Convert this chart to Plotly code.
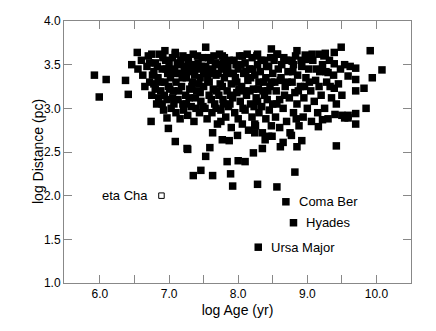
import plotly.graph_objs as go

# log age (yr) and log distance (pc) of the stellar groups
age_edge = [5.92, 6.09, 5.99, 6.37, 6.41, 6.54, 6.46, 6.75, 6.94, 7.09, 7.53, 7.77, 8.06, 8.28, 8.48, 8.56,
            8.61, 8.85, 8.97, 9.0, 8.78, 9.18, 9.26, 9.39, 9.49, 9.91, 10.08, 9.94, 9.82, 9.7, 9.85, 9.7,
            9.59, 9.5, 9.4, 9.39, 9.54, 9.62, 9.7, 9.3, 9.59, 9.7, 9.39]
dist_edge = [3.38, 3.33, 3.13, 3.32, 3.16, 3.64, 3.5, 3.62, 3.66, 3.64, 3.7, 3.6, 3.6, 3.62, 3.68, 3.62,
             3.32, 3.66, 3.61, 3.56, 3.54, 3.62, 3.63, 3.64, 3.7, 3.66, 3.44, 3.35, 3.23, 3.2, 3.0, 2.94,
             2.92, 2.92, 2.93, 3.51, 3.5, 3.48, 3.46, 3.41, 3.37, 3.33, 3.23]

age_low = [6.74, 6.97, 6.99, 7.09, 7.26, 7.27, 7.53, 7.59, 7.84, 8.0, 8.1, 7.46, 7.35, 7.63, 7.89, 7.92,
           8.28, 8.56, 8.22, 8.35, 8.61, 8.65, 7.77, 7.87, 7.63, 7.75, 7.99, 8.24, 8.44, 8.49, 8.39, 8.24,
           9.42, 8.82, 9.16, 8.85, 8.92, 8.77, 9.7, 9.54, 9.59, 9.22]
dist_low = [2.85, 2.89, 2.77, 2.62, 2.54, 2.53, 2.45, 2.55, 2.39, 2.4, 2.39, 2.29, 2.23, 2.23, 2.25, 2.11,
            2.13, 2.1, 2.49, 2.54, 2.56, 2.61, 2.64, 2.63, 2.72, 2.85, 2.69, 2.72, 2.68, 2.68, 2.64, 2.82,
            2.57, 2.27, 2.79, 2.56, 2.63, 2.69, 2.82, 2.89, 2.89, 2.87]

age_core = [6.55, 6.6, 6.62, 6.65, 6.68, 6.7, 6.72, 6.75, 6.78, 6.8, 6.82, 6.84, 6.86, 6.88, 6.9, 6.92,
            6.94, 6.95, 6.97, 6.98, 6.99, 7.0, 6.9, 6.85, 6.78,
            7.02, 7.03, 7.05, 7.06, 7.08, 7.1, 7.1, 7.12, 7.13, 7.15, 7.16, 7.18, 7.2, 7.2, 7.22, 7.24,
            7.25, 7.27, 7.28, 7.3, 7.3, 7.32, 7.34, 7.35, 7.36, 7.38, 7.4, 7.4, 7.42, 7.44, 7.45, 7.46,
            7.48, 7.5, 7.5, 7.05, 7.15, 7.25, 7.35, 7.45,
            7.52, 7.53, 7.55, 7.56, 7.58, 7.6, 7.6, 7.62, 7.64, 7.65, 7.66, 7.68, 7.7, 7.7, 7.72, 7.74,
            7.75, 7.76, 7.78, 7.8, 7.8, 7.82, 7.84, 7.85, 7.86, 7.88, 7.9, 7.9, 7.92, 7.94, 7.95, 7.96,
            7.98, 8.0, 8.0, 7.58, 7.68, 7.78, 7.88, 7.98,
            8.02, 8.03, 8.05, 8.06, 8.08, 8.1, 8.1, 8.12, 8.14, 8.15, 8.16, 8.18, 8.2, 8.2, 8.22, 8.24,
            8.25, 8.26, 8.28, 8.3, 8.3, 8.32, 8.34, 8.35, 8.36, 8.38, 8.4, 8.4, 8.42, 8.44, 8.45, 8.46,
            8.48, 8.5, 8.5, 8.08, 8.18, 8.28, 8.38, 8.48,
            8.52, 8.54, 8.55, 8.58, 8.6, 8.6, 8.62, 8.65, 8.66, 8.68, 8.7, 8.72, 8.74, 8.75, 8.78, 8.8,
            8.8, 8.82, 8.85, 8.86, 8.88, 8.9, 8.92, 8.94, 8.95, 8.98, 9.0, 8.56, 8.7, 8.84,
            9.02, 9.05, 9.06, 9.08, 9.1, 9.12, 9.15, 9.18, 9.2, 9.22, 9.25, 9.28, 9.3, 9.32, 9.35, 9.38,
            9.42, 9.45, 9.48, 9.5]
dist_core = [3.45, 3.55, 3.38, 3.25, 3.48, 3.6, 3.3, 3.15, 3.42, 3.52, 3.05, 3.35, 3.62, 3.2, 3.45, 2.98,
             3.3, 3.55, 3.1, 3.4, 3.25, 3.5, 3.05, 3.12, 3.28,
             3.35, 3.0, 3.58, 3.2, 3.45, 2.95, 3.3, 3.52, 3.1, 3.4, 2.88, 3.25, 3.6, 3.05, 3.48, 3.15,
             3.35, 2.92, 3.55, 3.22, 3.42, 3.02, 3.3, 3.62, 2.85, 3.12, 3.45, 3.2, 3.52, 2.95, 3.35, 3.08,
             3.58, 3.25, 3.42, 3.12, 3.5, 3.05, 3.5, 3.18,
             3.0, 3.48, 2.88, 3.32, 3.15, 3.55, 3.4, 2.95, 3.22, 3.6, 3.05, 3.38, 2.82, 3.5, 3.15, 3.28,
             2.98, 3.45, 3.1, 3.58, 3.35, 2.9, 3.2, 3.48, 3.02, 3.4, 2.78, 3.28, 3.12, 3.55, 2.95, 3.35,
             3.18, 3.45, 2.88, 3.3, 3.0, 3.52, 3.05, 3.3,
             3.6, 3.08, 3.25, 2.82, 3.4, 2.98, 3.52, 3.15, 3.32, 2.75, 3.45, 3.05, 3.58, 2.9, 3.22, 3.38,
             2.8, 3.12, 3.5, 2.95, 3.3, 3.42, 3.02, 2.72, 3.2, 3.55, 2.88, 3.35, 3.1, 3.48, 2.98, 3.25,
             2.8, 3.4, 3.05, 3.2, 3.35, 3.08, 3.15, 3.3,
             3.55, 2.9, 3.2, 3.45, 2.78, 3.1, 3.35, 3.0, 3.58, 3.25, 2.85, 3.42, 3.12, 2.72, 3.3, 2.95,
             3.5, 3.18, 3.05, 3.38, 2.8, 3.25, 3.48, 2.9, 3.12, 3.35, 3.0, 3.05, 3.55, 2.88,
             3.45, 3.2, 2.85, 3.55, 3.08, 3.32, 2.95, 3.42, 3.15, 3.5, 3.0, 3.3, 2.88, 3.55, 3.12, 3.38,
             3.05, 3.28, 3.45, 3.15]

# extra points filling the crowded middle of the cloud
age_fill = [6.72, 6.76, 6.8, 6.83, 6.87, 6.91, 6.93, 6.96, 7.01, 7.04, 7.07, 7.09, 7.11, 7.14, 7.17, 7.19,
            7.21, 7.23, 7.26, 7.29, 7.31, 7.33, 7.37, 7.39, 7.41, 7.43, 7.47, 7.49,
            7.54, 7.57, 7.61, 7.63, 7.67, 7.69, 7.71, 7.73, 7.77, 7.79, 7.83, 7.87, 7.89, 7.93, 7.97, 8.01,
            8.04, 8.07, 8.11, 8.13, 8.17, 8.21, 8.23, 8.27, 8.29, 8.33, 8.37, 8.41, 8.43, 8.47,
            8.53, 8.57, 8.63, 8.67, 8.71, 8.76, 8.79, 8.83, 8.87, 8.91, 8.96, 9.03, 9.07, 9.13, 9.17, 9.24,
            9.27, 9.33]
dist_fill = [3.52, 3.38, 3.22, 3.48, 3.3, 3.58, 3.15, 3.45, 3.22, 3.42, 3.05, 3.62, 3.4, 3.2, 3.55, 3.35,
             2.98, 3.4, 3.58, 3.12, 3.5, 3.25, 3.38, 3.0, 3.6, 3.28, 3.48, 3.02,
             3.4, 3.58, 3.1, 3.45, 3.52, 3.2, 3.4, 3.62, 3.25, 3.05, 3.42, 3.55, 3.15, 3.4, 3.5, 3.22,
             3.5, 3.0, 3.42, 3.62, 3.2, 3.45, 3.02, 3.6, 3.22, 3.55, 3.3, 3.48, 3.2, 3.58,
             3.3, 3.62, 3.5, 3.15, 3.3, 3.55, 3.42, 3.6, 3.2, 3.55, 3.25, 3.3, 3.62, 3.45, 3.25, 3.6,
             3.42, 3.25]

named = ['Coma Ber', 'Hyades', 'Ursa Major']
named_age = [8.69, 8.80, 8.29]
named_dist = [1.93, 1.69, 1.41]

eta_age = [6.89]
eta_dist = [2.00]

x_ticks = [6.0, 6.5, 7.0, 7.5, 8.0, 8.5, 9.0, 9.5, 10.0]
x_labels = ['6.0', '', '7.0', '', '8.0', '', '9.0', '', '10.0']

ages = age_edge + age_low + age_core + age_fill + named_age
dists = dist_edge + dist_low + dist_core + dist_fill + named_dist

fig = go.Figure()
fig.add_trace(go.Scatter(x=ages, y=dists, mode='markers',
                         marker=dict(symbol='square', size=7.5, color='black', line=dict(width=0))))
fig.add_trace(go.Scatter(x=eta_age, y=eta_dist, mode='markers',
                         marker=dict(symbol='square-open', size=5.5, color='black', line=dict(width=1))))

annots = [dict(x=6.73, y=2.0, text='eta Cha', xanchor='right')]
for name, a, d in zip(named, named_age, named_dist):
    annots.append(dict(x=a, y=d, text=name, xanchor='left', xshift=11))
for an in annots:
    an.update(showarrow=False, yanchor='middle', font=dict(size=13, color='black'))

# y title as an annotation so it sits closer to the tick labels
annots.append(dict(x=0, y=0.5, xref='paper', yref='paper', xshift=-26, text='log Distance (pc)',
                   textangle=-90, showarrow=False, xanchor='center', yanchor='middle',
                   font=dict(size=14, color='black')))

axis_style = dict(showline=True, linecolor='#888888', linewidth=1, mirror='ticks',
                  ticks='inside', ticklen=8, tickcolor='#888888', showgrid=False, zeroline=False,
                  automargin=False, tickfont=dict(size=12, color='black'))

# the page body has an 8px margin, so the figure is drawn 8px smaller
fig.update_layout(
    width=428, height=323,
    margin=dict(l=56, r=25, t=13, b=48),
    paper_bgcolor='white', plot_bgcolor='white',
    font=dict(family='Liberation Sans, Arial, sans-serif', color='black'),
    showlegend=False,
    annotations=annots,
    xaxis=dict(range=[5.48, 10.5], tickvals=x_ticks, ticktext=x_labels,
               title=dict(text='log Age (yr)', font=dict(size=14), standoff=4), **axis_style),
    yaxis=dict(range=[1.0, 4.0], dtick=0.5, tickformat='.1f', **axis_style),
)

fig.write_html("out.html")
